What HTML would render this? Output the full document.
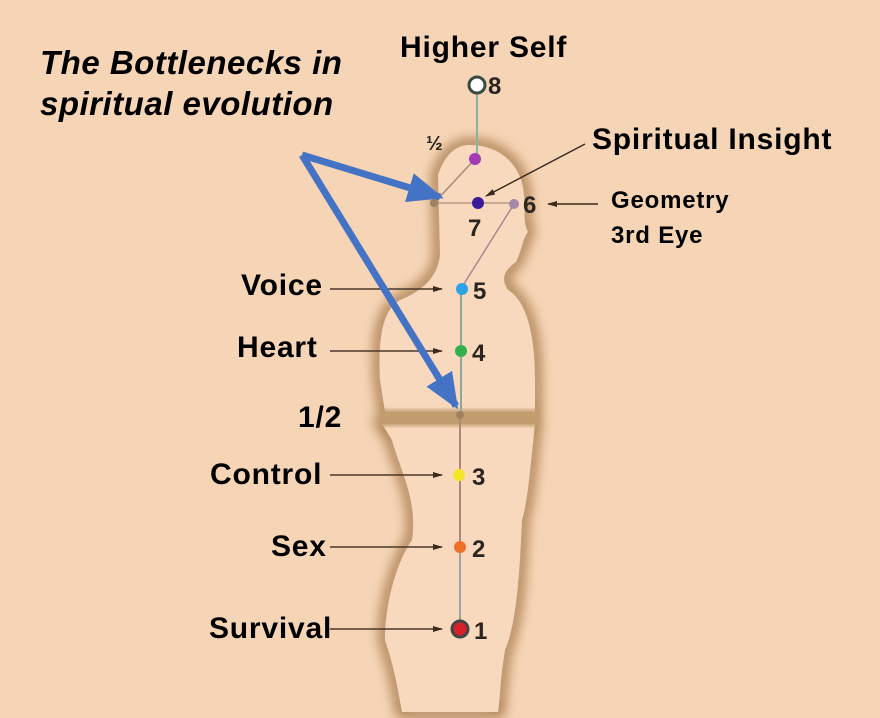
<!DOCTYPE html>
<html><head><style>
html,body{margin:0;padding:0;}
body{width:880px;height:718px;background:#f6d5b6;overflow:hidden;position:relative;font-family:"Liberation Sans",sans-serif;}
svg{position:absolute;left:0;top:0;}
.t{position:absolute;font-weight:bold;color:#000;white-space:nowrap;letter-spacing:0.8px;}
</style></head><body>
<svg width="880" height="718" viewBox="0 0 880 718">
<defs>
<filter id="b" x="-20%" y="-20%" width="140%" height="140%"><feGaussianBlur stdDeviation="6"/></filter>
<filter id="b2"><feGaussianBlur stdDeviation="2"/></filter>
<marker id="ah" markerWidth="10" markerHeight="8" refX="9" refY="4" orient="auto" markerUnits="userSpaceOnUse"><path d="M0,1 L10,4 L0,7 z" fill="#3a2a1c"/></marker>
<marker id="bh" markerWidth="36" markerHeight="30" refX="32" refY="15" orient="auto" markerUnits="userSpaceOnUse"><path d="M0,0 L36,15 L0,30 z" fill="#4472c4"/></marker>
</defs>
<path d="M470,145 C500,145 522,165 524,195 C526,210 522,220 528,232 C522,240 522,250 516,262 C505,270 500,278 508,290 C525,300 535,330 535,380 L535,412 L385,412 L380,380 C378,340 382,310 400,300 C425,290 438,275 440,255 L438,175 C445,155 455,145 470,145 Z" fill="#f8d9bd" stroke="#a87a48" stroke-width="12" filter="url(#b)"/>
<path d="M470,145 C500,145 522,165 524,195 C526,210 522,220 528,232 C522,240 522,250 516,262 C505,270 500,278 508,290 C525,300 535,330 535,380 L535,412 L385,412 L380,380 C378,340 382,310 400,300 C425,290 438,275 440,255 L438,175 C445,155 455,145 470,145 Z" fill="#f8d9bd"/>
<path d="M382,424 L535,424 C530,470 528,500 522,520 C520,560 518,620 505,650 C500,680 500,700 498,712 L402,712 C398,690 395,670 385,640 C385,600 398,560 412,540 C418,500 400,470 392,440 Z" fill="#f8d9bd" stroke="#a87a48" stroke-width="12" filter="url(#b)"/>
<path d="M382,424 L535,424 C530,470 528,500 522,520 C520,560 518,620 505,650 C500,680 500,700 498,712 L402,712 C398,690 395,670 385,640 C385,600 398,560 412,540 C418,500 400,470 392,440 Z" fill="#f8d9bd"/>
<rect x="380" y="410" width="160" height="16" fill="#c29d70" filter="url(#b2)"/>
<path d="M442,175 L442,262" stroke="#c7a176" stroke-width="6" filter="url(#b2)"/>
<line x1="477" y1="88" x2="477" y2="158" stroke="#8fb0a0" stroke-width="2"/>
<line x1="461" y1="290" x2="461" y2="415" stroke="#8fa79a" stroke-width="2"/>
<line x1="460" y1="418" x2="460" y2="548" stroke="#b08878" stroke-width="2"/>
<line x1="460" y1="548" x2="460" y2="628" stroke="#9aa4a0" stroke-width="2"/>
<line x1="476" y1="158" x2="434" y2="203" stroke="#a88878" stroke-width="1.5"/>
<line x1="434" y1="203" x2="514" y2="203" stroke="#b89888" stroke-width="1.5"/>
<line x1="514" y1="204" x2="462" y2="287" stroke="#a88890" stroke-width="1.5"/>
<line x1="585" y1="144" x2="486" y2="196" stroke="#3a2a1c" stroke-width="1.5" marker-end="url(#ah)"/>
<line x1="598" y1="204" x2="548" y2="204" stroke="#3a2a1c" stroke-width="1.5" marker-end="url(#ah)"/>
<line x1="330" y1="289" x2="442" y2="289" stroke="#4a3828" stroke-width="1.5" marker-end="url(#ah)"/>
<line x1="330" y1="351" x2="442" y2="351" stroke="#4a3828" stroke-width="1.5" marker-end="url(#ah)"/>
<line x1="330" y1="475" x2="442" y2="475" stroke="#4a3828" stroke-width="1.5" marker-end="url(#ah)"/>
<line x1="330" y1="547" x2="442" y2="547" stroke="#4a3828" stroke-width="1.5" marker-end="url(#ah)"/>
<line x1="330" y1="629" x2="442" y2="629" stroke="#4a3828" stroke-width="1.5" marker-end="url(#ah)"/>
<circle cx="477" cy="85" r="8" fill="#fff" stroke="#3a4a40" stroke-width="3"/>
<circle cx="475" cy="159" r="6" fill="#a33bb5"/>
<circle cx="434" cy="203" r="4" fill="#a08060"/>
<circle cx="478" cy="203" r="6" fill="#3a1a9a"/>
<circle cx="514" cy="204" r="5" fill="#a788a8"/>
<circle cx="462" cy="289" r="6" fill="#2aa2e8"/>
<circle cx="461" cy="351" r="6" fill="#32b050"/>
<circle cx="460" cy="415" r="4" fill="#a08060"/>
<circle cx="459" cy="475" r="6" fill="#f5e52a"/>
<circle cx="460" cy="547" r="6" fill="#ef6f2a"/>
<circle cx="460" cy="629" r="8" fill="#d8202a" stroke="#444" stroke-width="3"/>
<g font-family="Liberation Sans" font-weight="bold" font-size="24" fill="#2a2520">
<text x="488" y="94">8</text>
<text x="426" y="150" font-size="20">½</text>
<text x="468" y="236">7</text>
<text x="523" y="213">6</text>
<text x="473" y="299">5</text>
<text x="472" y="361">4</text>
<text x="472" y="485">3</text>
<text x="472" y="557">2</text>
<text x="474" y="639">1</text>
</g>
<line x1="302" y1="155" x2="440" y2="197" stroke="#4472c4" stroke-width="7" marker-end="url(#bh)"/>
<line x1="302" y1="155" x2="456" y2="406" stroke="#4472c4" stroke-width="7" marker-end="url(#bh)"/>
</svg>
<div class="t" style="left:40px;top:42px;font-size:33px;font-style:italic;line-height:41px;letter-spacing:0.5px;">The Bottlenecks in<br>spiritual evolution</div>
<div class="t" style="left:400px;top:31px;font-size:30px;">Higher Self</div>
<div class="t" style="left:592px;top:123px;font-size:30px;">Spiritual Insight</div>
<div class="t" style="left:611px;top:183px;font-size:24px;line-height:35px;">Geometry<br>3rd Eye</div>
<div class="t" style="left:241px;top:269px;font-size:30px;">Voice</div>
<div class="t" style="left:237px;top:331px;font-size:30px;">Heart</div>
<div class="t" style="left:298px;top:401px;font-size:30px;">1/2</div>
<div class="t" style="left:210px;top:458px;font-size:30px;">Control</div>
<div class="t" style="left:271px;top:530px;font-size:30px;">Sex</div>
<div class="t" style="left:209px;top:612px;font-size:30px;">Survival</div>
</body></html>
